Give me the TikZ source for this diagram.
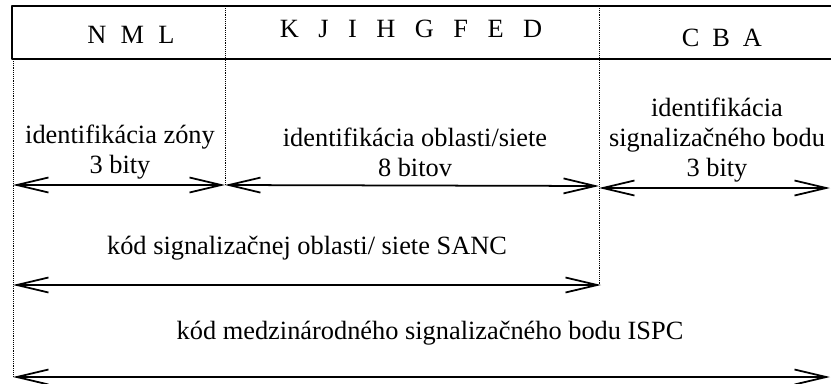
\documentclass[tikz,border=0pt]{standalone}
\usepackage{fontspec}
\setmainfont{Liberation Serif}
\usetikzlibrary{arrows.meta}
\begin{document}
\begin{tikzpicture}[x=0.03cm,y=-0.03cm,line join=round,
  barb/.tip={Straight Barb[length=0.95cm,width=0.45cm]},
  dim/.style={barb-barb,line width=1.5pt},
  sep/.style={densely dotted,line width=0.6pt},
  lbl/.style={font=\fontsize{22.5}{25.6}\selectfont,align=center,inner sep=0pt}]
\useasboundingbox (0,0) rectangle (831,383);
\draw[line width=1.7pt](831,6)--(12,6)--(12,59)--(831,59);
\draw[sep](13,59)--(13,377);
\draw[sep](225,6)--(225,185);
\draw[sep](599,6)--(599,285);

    \node[lbl] (nml) at (131,35) {N\hspace{0.54em}M\hspace{0.54em}L};
    \node[lbl] (kjih) at (411,29) {K\hspace{0.74em}J\hspace{0.74em}I\hspace{0.74em}H\hspace{0.74em}G\hspace{0.74em}F\hspace{0.74em}E\hspace{0.74em}D};
    \node[lbl] (cba) at (722,38) {C\hspace{0.49em}B\hspace{0.49em}A};
    \node[lbl] (zona) at (120,152) {identifikácia zóny\\3 bity};
    \node[lbl] (oblast) at (415,152) {identifikácia oblasti/siete\\8 bitov};
    \node[lbl] (bod) at (717,140) {identifikácia\\signalizačného bodu\\3 bity};
    \node[lbl] (sanc) at (307,248) {kód signalizačnej oblasti/ siete SANC};
    \node[lbl] (ispc) at (430,333) {kód medzinárodného signalizačného bodu ISPC};

    \coordinate (zL) at (13,185);
    \coordinate (zR) at (225,185);
    \coordinate (oR) at (599,186);
    \coordinate (bL) at (599,188);
    \coordinate (bR) at (830,188);
    \coordinate (sL) at (13,285);
    \coordinate (sR) at (601,285);
    \coordinate (iL) at (13,377);
    \coordinate (iR) at (830,377);
\draw[dim](zL)--(zR);
\draw[dim](zR)--(oR);
\draw[dim](bL)--(bR);
\draw[dim](sL)--(sR);
\draw[dim](iL)--(iR);
  \end{tikzpicture}
\end{document}
